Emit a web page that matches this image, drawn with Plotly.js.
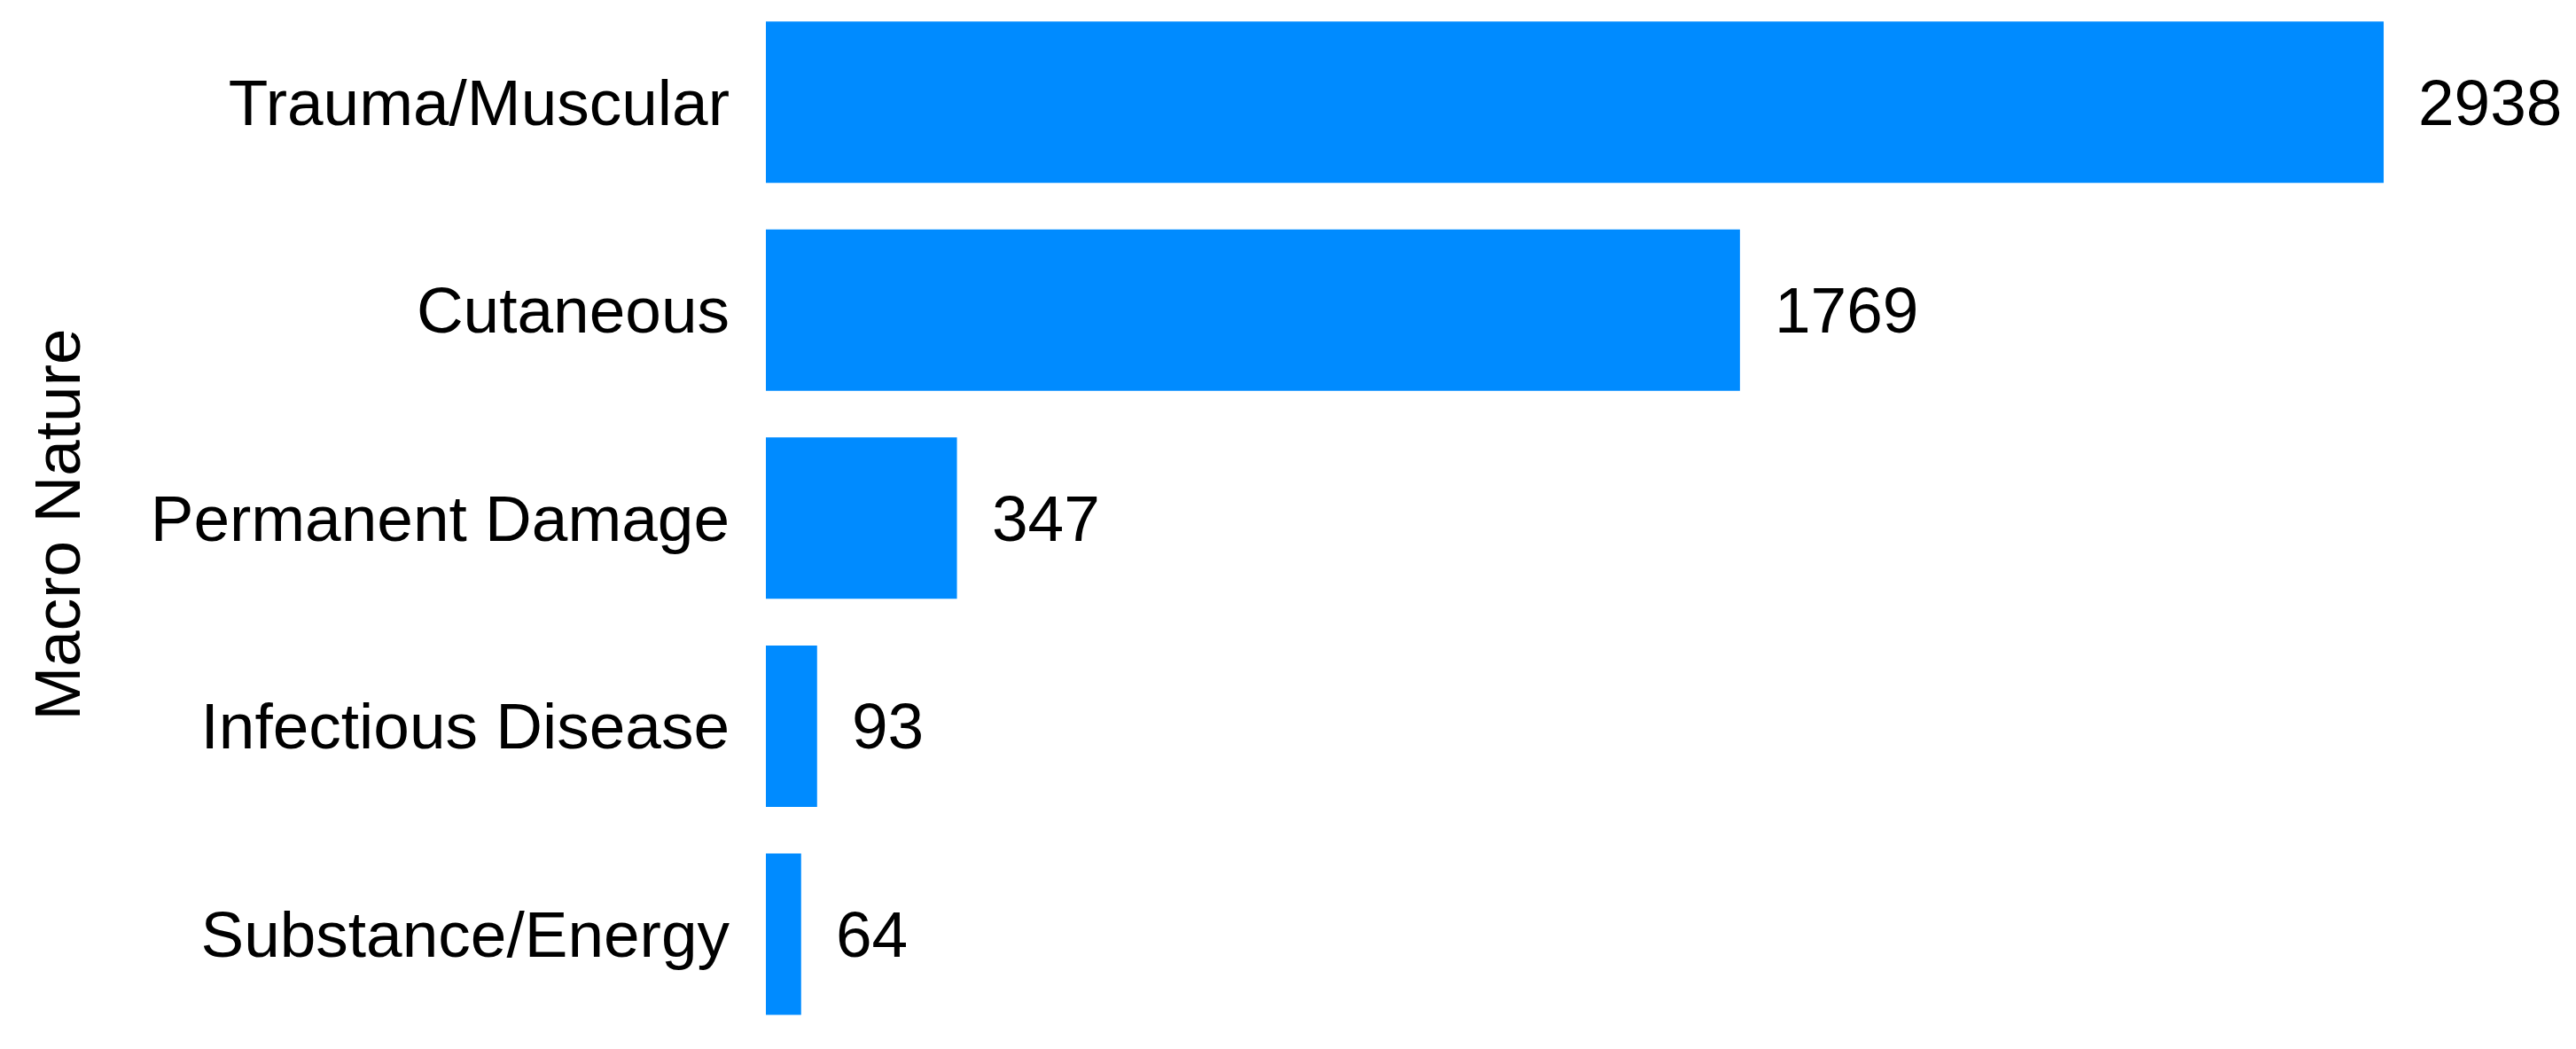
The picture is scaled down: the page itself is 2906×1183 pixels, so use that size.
<!DOCTYPE html>
<html>
<head>
<meta charset="utf-8">
<script src="https://cdn.plot.ly/plotly-3.0.1.min.js"></script>
<style>html,body{margin:0;padding:0;background:#fff;}#chart{width:2906px;height:1183px;}</style>
</head>
<body>
<div id="chart"></div>
<script>
const categories = ["Trauma/Muscular", "Cutaneous", "Permanent Damage", "Infectious Disease", "Substance/Energy"];
const counts = [2938, 1769, 347, 93, 64];
const axisTitle = "Macro Nature";

const barColor = "#008BFF";
const fontFamily = "'Liberation Sans', Arial, sans-serif";
const fontSize = 73;

const trace = {
  type: "bar",
  orientation: "h",
  x: counts,
  y: categories,
  width: 0.776,
  marker: { color: barColor },
  hoverinfo: "x+y"
};

const annotations = categories.map((c, i) => ({
  x: counts[i],
  y: c,
  xref: "x",
  yref: "y",
  text: String(counts[i]),
  showarrow: false,
  xanchor: "left",
  yanchor: "middle",
  xshift: 37,
  font: { family: fontFamily, size: fontSize, color: "#000" }
}));

const layout = {
  width: 2906,
  height: 1183,
  margin: { l: 864, r: 0, t: 0, b: 0, pad: 0 },
  paper_bgcolor: "#fff",
  plot_bgcolor: "#fff",
  showlegend: false,
  font: { family: fontFamily, size: fontSize, color: "#000" },
  xaxis: {
    range: [0, 3287.3],
    showgrid: false,
    zeroline: false,
    showline: false,
    showticklabels: false,
    ticks: ""
  },
  yaxis: {
    type: "category",
    categoryorder: "array",
    categoryarray: categories.slice().reverse(),
    range: [-0.552, 4.491],
    showgrid: false,
    zeroline: false,
    showline: false,
    ticks: "",
    ticklabelstandoff: 40,
    tickfont: { family: fontFamily, size: fontSize, color: "#000" },
    automargin: false,
    title: { text: axisTitle, standoff: 55, font: { family: fontFamily, size: fontSize, color: "#000" } }
  },
  annotations: annotations
};

Plotly.newPlot("chart", [trace], layout, { staticPlot: true, displayModeBar: false });
</script>
</body>
</html>
